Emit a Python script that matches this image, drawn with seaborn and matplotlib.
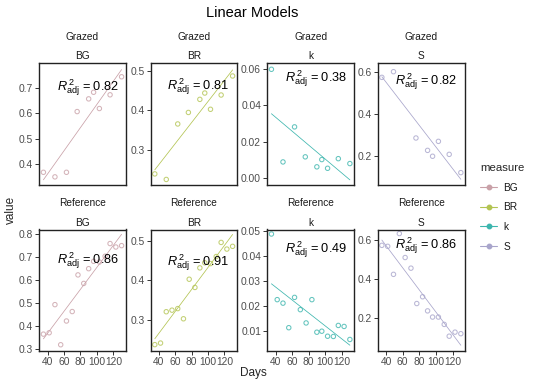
import matplotlib
matplotlib.use("Agg")
import matplotlib.pyplot as plt
from matplotlib.lines import Line2D
import seaborn as sns
import numpy as np
import pandas as pd

# ---------------- data ----------------
treatments = ["Grazed", "Reference"]
measures = ["BG", "BR", "k", "S"]

days_ref = [35, 42, 49, 56, 63, 70, 77, 84, 90, 96, 103, 110, 116, 123, 130]
days_grazed = [35, 49, 63, 76, 90, 96, 103, 116, 130]
days_grazed_S = [35, 49, 76, 90, 96, 103, 116, 130]

grazed_BG = [0.367, 0.349, 0.367, 0.606, 0.656, 0.682, 0.618, 0.672, 0.743]
grazed_BR = [0.240, 0.226, 0.366, 0.395, 0.428, 0.444, 0.403, 0.439, 0.487]
grazed_k = [0.0598, 0.0088, 0.0281, 0.0116, 0.0061, 0.0101, 0.0053, 0.0106, 0.0079]
grazed_S = [0.573, 0.600, 0.284, 0.225, 0.197, 0.268, 0.206, 0.119]

ref_BG = [0.365, 0.371, 0.493, 0.319, 0.422, 0.463, 0.622, 0.585, 0.649, 0.681,
          0.678, 0.703, 0.758, 0.743, 0.749]
ref_BR = [0.236, 0.240, 0.320, 0.324, 0.328, 0.302, 0.403, 0.382, 0.432, 0.445,
          0.443, 0.461, 0.497, 0.480, 0.487]
ref_k = [0.0489, 0.0227, 0.0213, 0.0115, 0.0236, 0.0187, 0.0134, 0.0227, 0.0097,
         0.0101, 0.0081, 0.0080, 0.0124, 0.0120, 0.0068]
ref_S = [0.574, 0.569, 0.424, 0.635, 0.511, 0.456, 0.273, 0.308, 0.235, 0.203,
         0.203, 0.165, 0.104, 0.125, 0.117]

r2_grazed = ["0.82", "0.81", "0.38", "0.82"]
r2_ref = ["0.86", "0.91", "0.49", "0.86"]

x_ticks = [40, 60, 80, 100, 120]

series = {
    ("Grazed", "BG"): (days_grazed, grazed_BG),
    ("Grazed", "BR"): (days_grazed, grazed_BR),
    ("Grazed", "k"): (days_grazed, grazed_k),
    ("Grazed", "S"): (days_grazed_S, grazed_S),
    ("Reference", "BG"): (days_ref, ref_BG),
    ("Reference", "BR"): (days_ref, ref_BR),
    ("Reference", "k"): (days_ref, ref_k),
    ("Reference", "S"): (days_ref, ref_S),
}
rows = []
for (t, m), (xs, ys) in series.items():
    for x, y in zip(xs, ys):
        rows.append({"treatment": t, "measure": m, "Days": x, "value": y})
df = pd.DataFrame(rows)

# ---------------- style ----------------
sns.set_style("white")
plt.rcParams["font.family"] = ["Liberation Sans", "DejaVu Sans"]
plt.rcParams["mathtext.fontset"] = "custom"
plt.rcParams["mathtext.rm"] = "Liberation Sans"
plt.rcParams["mathtext.it"] = "Liberation Sans:italic"

colors = {"BG": "#C9A1A8", "BR": "#B3C452", "k": "#3DB6AE", "S": "#A8A5CB"}
tick_color = "#4D4D4D"

W, H = 540, 386
fig = plt.figure(figsize=(W / 100, H / 100), dpi=100)


def px_rect(l, t, r, b):
    return [l / W, 1 - b / H, (r - l) / W, (b - t) / H]


col_px = [(39.3, 125.7), (150.7, 236.7), (267.3, 354.0), (377.7, 465.0)]
row_px = [(63.3, 185.0), (229.5, 350.5)]

ylims = {
    ("Grazed", "BG"): (0.317, 0.796), ("Grazed", "BR"): (0.212, 0.519),
    ("Grazed", "k"): (-0.0039, 0.0631), ("Grazed", "S"): (0.060, 0.640),
    ("Reference", "BG"): (0.294, 0.819), ("Reference", "BR"): (0.221, 0.530),
    ("Reference", "k"): (0.0024, 0.0507), ("Reference", "S"): (0.030, 0.656),
}
yticks = {
    "BG": ([0.4, 0.5, 0.6, 0.7], [0.3, 0.4, 0.5, 0.6, 0.7, 0.8]),
    "BR": ([0.3, 0.4, 0.5], [0.3, 0.4, 0.5]),
    "k": ([0.0, 0.02, 0.04, 0.06], [0.01, 0.02, 0.03, 0.04, 0.05]),
    "S": ([0.2, 0.4, 0.6], [0.2, 0.4, 0.6]),
}
label_pos = {
    ("Grazed", "BG"): (0.56, 0.80), ("Grazed", "BR"): (0.55, 0.81),
    ("Grazed", "k"): (0.56, 0.87), ("Grazed", "S"): (0.557, 0.85),
    ("Reference", "BG"): (0.56, 0.74), ("Reference", "BR"): (0.55, 0.725),
    ("Reference", "k"): (0.56, 0.835), ("Reference", "S"): (0.557, 0.865),
}

for ri, t in enumerate(treatments):
    r2s = r2_grazed if t == "Grazed" else r2_ref
    for ci, m in enumerate(measures):
        l, r = col_px[ci]
        top, bot = row_px[ri]
        ax = fig.add_axes(px_rect(l, top, r, bot))
        sub = df[(df.treatment == t) & (df.measure == m)]
        sns.regplot(data=sub, x="Days", y="value", ax=ax, ci=None,
                    scatter_kws=dict(s=10, facecolors="none", edgecolors=colors[m],
                                     linewidths=0.75),
                    line_kws=dict(color=colors[m], lw=0.55))
        ax.set_xlim(30, 135)
        ax.set_ylim(*ylims[(t, m)])
        ax.set_yticks(yticks[m][ri])
        if m == "k":
            ax.set_yticklabels([f"{v:.2f}" for v in yticks[m][ri]])
        else:
            ax.set_yticklabels([f"{v:.1f}" for v in yticks[m][ri]])
        ax.set_xticks(x_ticks)
        ax.set_xlabel("")
        ax.set_ylabel("")
        if ri == 0:
            ax.tick_params(axis="x", bottom=False, labelbottom=False)
        for sp in ax.spines.values():
            sp.set_visible(True)
            sp.set_color("#222222")
            sp.set_linewidth(1.0)
        ax.tick_params(axis="both", length=3, width=0.7, color="#333333",
                       labelcolor=tick_color, labelsize=7.4, pad=1.5,
                       left=True, bottom=(ri == 1))
        ax.text(*label_pos[(t, m)], r"$R_{\mathrm{adj}}^{\,2}$ = " + r2s[ci],
                transform=ax.transAxes, ha="center", va="center", fontsize=9.2,
                color="black")
        # facet strips
        cx = (l + r) / 2 / W
        fig.text(cx, 1 - (top - 26.5) / H, t, ha="center", va="center",
                 fontsize=7.3, color="#1A1A1A")
        fig.text(cx, 1 - (top - 7) / H, m, ha="center", va="center",
                 fontsize=7.3, color="#1A1A1A")

fig.text(252 / W, 1 - 13 / H, "Linear Models", ha="center", va="center",
         fontsize=10.5, color="black")
fig.text(253 / W, 1 - 373 / H, "Days", ha="center", va="center", fontsize=8.5)
fig.text(11 / W, 1 - 210 / H, "value", ha="center", va="center", fontsize=8.5,
         rotation=90)

handles = [Line2D([0], [0], color=colors[m], lw=0.8, marker="o", markersize=3.2,
                  markerfacecolor=colors[m], markeredgecolor=colors[m]) for m in measures]
leg = fig.legend(handles, measures, title="measure", loc="upper left",
                 bbox_to_anchor=(476 / W, 1 - 159 / H), frameon=False,
                 fontsize=7.3, title_fontsize=8.2, handlelength=1.7,
                 handletextpad=0.6, labelspacing=0.95, borderaxespad=0)
leg._legend_box.align = "left"
for txt in leg.get_texts():
    txt.set_color("#1A1A1A")

fig.savefig("out.png", dpi=100)
